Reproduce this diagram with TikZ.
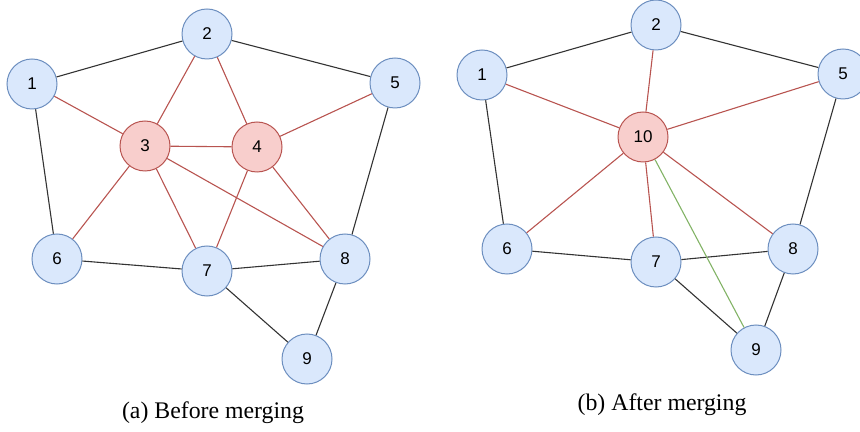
\documentclass[tikz,border=0pt]{standalone}
\usepackage{fontspec}
\setmainfont{Liberation Serif}
\newfontfamily\nodefont{Liberation Sans}

\definecolor{vblue}{HTML}{DAE8FC}
\definecolor{vbluedraw}{HTML}{6C8EBF}
\definecolor{vred}{HTML}{F8CECC}
\definecolor{vreddraw}{HTML}{B85450}
\definecolor{egreen}{HTML}{82B366}
\definecolor{egrey}{HTML}{333333}

\tikzset{
  vertex/.style={circle,draw=vbluedraw,fill=vblue,line width=0.5pt,minimum size=25pt,inner sep=0pt,font=\nodefont\fontsize{8.5}{10}\selectfont},
  merged/.style={vertex,draw=vreddraw,fill=vred},
  plain/.style={draw=egrey,line width=0.55pt},
  redge/.style={draw=vreddraw,line width=0.55pt},
  gedge/.style={draw=egreen,line width=0.55pt},
  caption/.style={font=\fontsize{11.9}{14}\selectfont}
}

\begin{document}
\begin{tikzpicture}[x=0.5pt,y=-0.5pt]
  \useasboundingbox (0,0) rectangle (860,432);
  % (a) before merging
  \node[vertex] (a1) at (32,84) {1};
  \node[vertex] (a2) at (207,34) {2};
  \node[merged] (a3) at (145,146) {3};
  \node[merged] (a4) at (257,147) {4};
  \node[vertex] (a5) at (395,83) {5};
  \node[vertex] (a6) at (57,259) {6};
  \node[vertex] (a7) at (207,271) {7};
  \node[vertex] (a8) at (345,259) {8};
  \node[vertex] (a9) at (307,359) {9};
  \foreach \s/\t in {1/2,2/5,1/6,5/8,6/7,7/8,7/9,8/9}
    \draw[plain] (a\s) -- (a\t);
  \foreach \s/\t in {1/3,2/3,2/4,3/4,4/5,3/6,3/7,3/8,4/7,4/8}
    \draw[redge] (a\s) -- (a\t);
  \node[caption] (capa) at (213,413) {(a) Before merging};

  % (b) after merging
  \node[vertex] (b1) at (482,75) {1};
  \node[vertex] (b2) at (656,25) {2};
  \node[merged] (b10) at (643,137) {10};
  \node[vertex] (b5) at (843,74) {5};
  \node[vertex] (b6) at (507,249) {6};
  \node[vertex] (b7) at (656,262) {7};
  \node[vertex] (b8) at (793,249) {8};
  \node[vertex] (b9) at (756,350) {9};
  \foreach \s/\t in {1/2,2/5,1/6,5/8,6/7,7/8,7/9,8/9}
    \draw[plain] (b\s) -- (b\t);
  \foreach \s in {1,2,5,6,7,8}
    \draw[redge] (b10) -- (b\s);
  \draw[gedge] (b10) -- (b9);
  \node[caption] (capb) at (662,405) {(b) After merging};
\end{tikzpicture}
\end{document}
